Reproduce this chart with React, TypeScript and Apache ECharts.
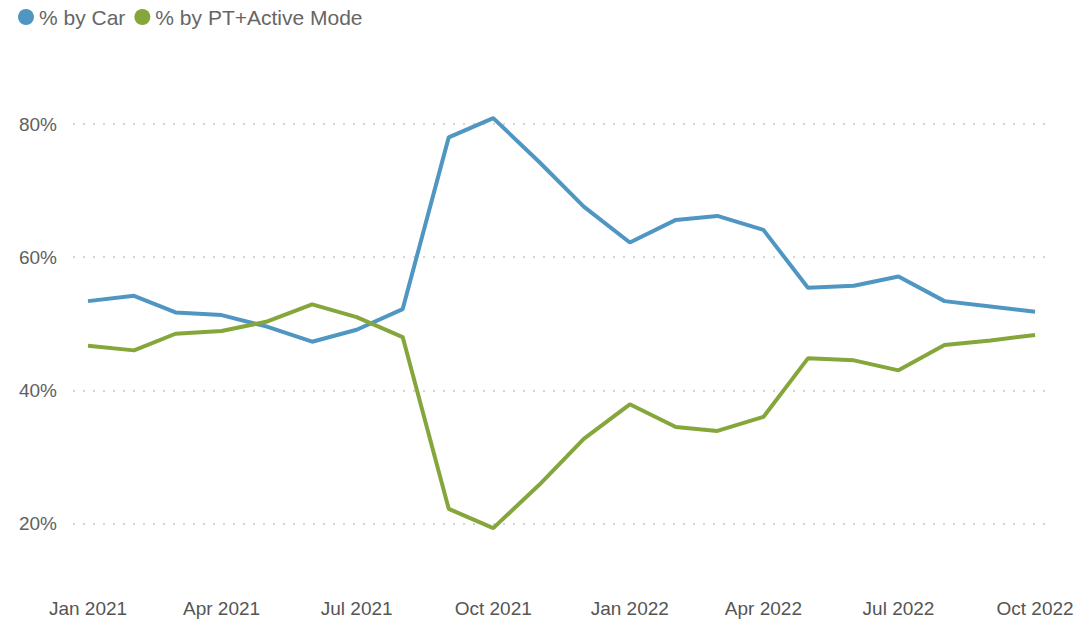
import React, { useEffect, useRef } from "react";
import * as echarts from "echarts";

// Monthly observations, Jan 2021 .. Oct 2022
const months: [number, number][] = [
  [2021, 0], [2021, 1], [2021, 2], [2021, 3], [2021, 4], [2021, 5],
  [2021, 6], [2021, 7], [2021, 8], [2021, 9], [2021, 10], [2021, 11],
  [2022, 0], [2022, 1], [2022, 2], [2022, 3], [2022, 4], [2022, 5],
  [2022, 6], [2022, 7], [2022, 8], [2022, 9],
];

const carPct = [
  53.4, 54.2, 51.7, 51.3, 49.6, 47.3, 49.1, 52.2, 78.0, 80.9, 74.3, 67.6,
  62.2, 65.6, 66.2, 64.1, 55.4, 55.7, 57.1, 53.4, 52.6, 51.8,
];

const ptActivePct = [
  46.7, 46.0, 48.5, 48.9, 50.3, 52.9, 51.0, 48.0, 22.2, 19.3, 25.8, 32.7,
  37.9, 34.5, 33.9, 36.0, 44.8, 44.5, 43.0, 46.8, 47.5, 48.3,
];

const yTickLabels = [20, 40, 60, 80];
const monthNames = ["Jan", "Feb", "Mar", "Apr", "May", "Jun", "Jul", "Aug", "Sep", "Oct", "Nov", "Dec"];

const DAY = 86400000;

export default function App() {
  const ref = useRef<HTMLDivElement>(null);

  useEffect(() => {
    document.body.style.margin = "0";
    if (!ref.current) return;
    const chart = echarts.init(ref.current, null, { renderer: "svg" });

    const ts = months.map(([y, m]) => new Date(y, m, 1).getTime());
    const carData = ts.map((t, i) => [t, carPct[i]]);
    const ptData = ts.map((t, i) => [t, ptActivePct[i]]);

    const font = "'Liberation Sans', Arial, sans-serif";

    chart.setOption({
      animation: false,
      backgroundColor: "#ffffff",
      legend: {
        left: 13,
        top: 1,
        icon: "circle",
        itemWidth: 16,
        itemHeight: 16,
        itemGap: 9,
        textStyle: { fontFamily: font, fontSize: 21, color: "#666666", lineHeight: 22 },
        data: ["% by Car", "% by PT+Active Mode"],
      },
      grid: { left: 73, right: 38, top: 57.5, bottom: 30, containLabel: false },
      xAxis: {
        type: "time",
        min: ts[0] - 10.1 * DAY,
        max: ts[ts.length - 1] + 9.4 * DAY,
        splitNumber: 7,
        minInterval: 80 * DAY,
        maxInterval: 95 * DAY,
        axisLine: { show: false },
        axisTick: { show: false },
        splitLine: { show: false },
        axisLabel: {
          fontFamily: font,
          fontSize: 19,
          color: "#555555",
          margin: 9,
          showMinLabel: false,
          showMaxLabel: false,
          formatter: (v: number) => {
            const d = new Date(v);
            if (d.getDate() !== 1 || d.getMonth() % 3 !== 0 || d.getHours() !== 0) return "";
            return monthNames[d.getMonth()] + " " + d.getFullYear();
          },
        },
      },
      yAxis: {
        type: "value",
        min: 10,
        max: 90,
        interval: 10,
        axisLine: { show: false },
        axisTick: { show: false },
        axisLabel: {
          fontFamily: font,
          fontSize: 19,
          color: "#606060",
          margin: 16,
          formatter: (v: number) => (yTickLabels.indexOf(v) >= 0 ? v + "%" : ""),
        },
        splitLine: {
          show: true,
          lineStyle: {
            color: ["rgba(0,0,0,0)", "#d4d4d4"],
            width: 2,
            type: [2, 8],
          },
        },
      },
      series: [
        {
          name: "% by Car",
          type: "line",
          data: carData,
          symbol: "none",
          showSymbol: false,
          color: "#4f96c3",
          lineStyle: { width: 4, color: "#4f96c3" },
        },
        {
          name: "% by PT+Active Mode",
          type: "line",
          data: ptData,
          symbol: "none",
          showSymbol: false,
          color: "#85a63b",
          lineStyle: { width: 4, color: "#85a63b" },
        },
      ],
    });

    return () => chart.dispose();
  }, []);

  return <div ref={ref} style={{ width: 1087, height: 620 }} />;
}
